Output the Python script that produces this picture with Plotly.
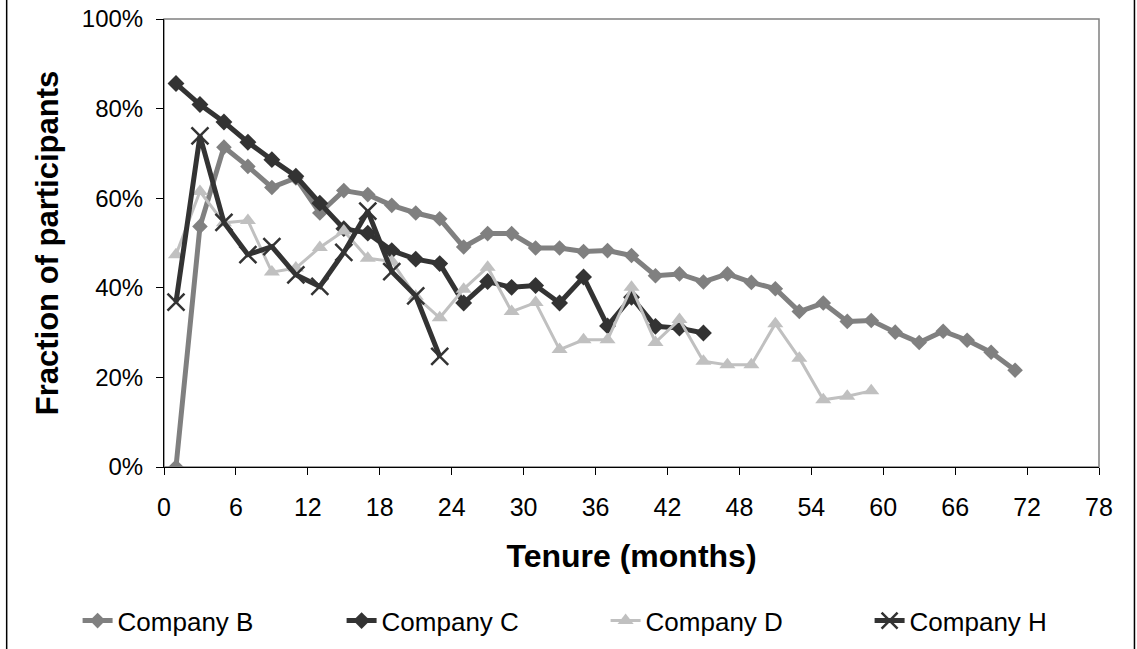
import plotly.graph_objects as go

# ---- data (fraction of participants, %) ----
months_B = list(range(1, 72, 2))
company_B = [0, 53.7, 71.4, 67.1, 62.4, 64.5, 56.7, 61.7, 60.8, 58.4, 56.7, 55.4,
             49.1, 52.1, 52.1, 48.9, 48.9, 48.1, 48.3, 47.2, 42.7, 43.1, 41.3, 43.1,
             41.2, 39.8, 34.7, 36.6, 32.5, 32.7, 30.1, 27.8, 30.3, 28.3, 25.6, 21.6]
months_C = list(range(1, 46, 2))
company_C = [85.6, 80.9, 77.0, 72.5, 68.6, 64.9, 58.9, 53.2, 52.2, 48.3, 46.4, 45.4,
             36.6, 41.4, 40.1, 40.5, 36.6, 42.4, 31.5, 37.9, 31.4, 31.0, 29.9]
months_D = list(range(1, 60, 2))
company_D = [47.4, 61.5, 54.5, 55.0, 43.5, 44.4, 49.0, 52.7, 46.6, 45.9, 38.1, 33.3,
             39.7, 44.6, 34.7, 36.7, 26.2, 28.4, 28.4, 40.1, 27.8, 32.9, 23.6, 22.8,
             22.8, 32.0, 24.3, 15.0, 15.8, 17.0]
months_H = list(range(1, 24, 2))
company_H = [36.8, 73.9, 54.6, 47.4, 49.2, 42.9, 40.3, 47.9, 57.1, 43.6, 38.2, 24.7]

x_ticks = list(range(0, 79, 6))
y_ticks = [0, 0.2, 0.4, 0.6, 0.8, 1.0]

FONT = "Liberation Sans, Arial, sans-serif"

fig = go.Figure()
fig.add_trace(go.Scatter(
    x=months_B, y=[v / 100 for v in company_B], name="Company B", mode="lines+markers",
    line=dict(color="#808080", width=5),
    marker=dict(symbol="diamond", size=12, color="#808080")))
fig.add_trace(go.Scatter(
    x=months_C, y=[v / 100 for v in company_C], name="Company C", mode="lines+markers",
    line=dict(color="#333333", width=5),
    marker=dict(symbol="diamond", size=13, color="#333333")))
fig.add_trace(go.Scatter(
    x=months_D, y=[v / 100 for v in company_D], name="Company D", mode="lines+markers",
    line=dict(color="#c0c0c0", width=3),
    marker=dict(symbol="triangle-up", size=14, color="#c0c0c0")))
fig.add_trace(go.Scatter(
    x=months_H, y=[v / 100 for v in company_H], name="Company H", mode="lines+markers",
    line=dict(color="#333333", width=5),
    marker=dict(symbol="x-thin", size=17, color="#333333",
                line=dict(color="#333333", width=2.5))))

W, H = 1137, 649
# plot area in screen pixels
L, R, T, B = 163.5, 1099.5, 19.3, 467.3
pw, ph = R - L, B - T

def px(xs):
    return (xs - L) / pw

def py(ys):
    return (B - ys) / ph

fig.update_layout(
    width=W, height=H,
    margin=dict(l=L, r=W - R, t=T, b=H - B, pad=0, autoexpand=False),
    paper_bgcolor="white", plot_bgcolor="white",
    font=dict(family=FONT, color="black", size=25),
    showlegend=True,
    legend=dict(orientation="h", x=px(77), y=py(621), xanchor="left", yanchor="middle",
                font=dict(family=FONT, size=26, color="black"),
                entrywidth=219, entrywidthmode="pixels",
                bgcolor="rgba(0,0,0,0)", traceorder="normal"),
    xaxis=dict(range=[0, 78], tickvals=x_ticks, ticktext=[str(v) for v in x_ticks],
               automargin=False, ticklabeloverflow="allow",
               showgrid=False, zeroline=False, showline=True, linecolor="black",
               linewidth=1, ticks="outside", ticklen=7, tickcolor="black",
               ticklabelstandoff=11,
               tickfont=dict(family=FONT, size=25, color="black"),
               title=dict(text="<b>Tenure (months)</b>",
                          font=dict(family=FONT, size=32, color="black"), standoff=24)),
    yaxis=dict(range=[0, 1], tickvals=y_ticks, tickformat=".0%",
               automargin=False, ticklabeloverflow="allow",
               showgrid=False, zeroline=False, showline=True, linecolor="black",
               linewidth=1, ticks="outside", ticklen=7, tickcolor="black",
               ticklabelstandoff=8,
               tickfont=dict(family=FONT, size=24, color="black"),
               title=dict(text="<b>Fraction of participants</b>",
                          font=dict(family=FONT, size=31, color="black"), standoff=13)),
    shapes=[
        dict(type="rect", xref="paper", yref="paper", x0=0, x1=1, y0=0, y1=1,
             line=dict(color="#808080", width=1.5), layer="below"),
        dict(type="rect", xref="paper", yref="paper", x0=px(6), x1=px(1135),
             y0=py(652), y1=py(-3), line=dict(color="black", width=1.5), layer="below"),
    ],
)

fig.write_html("out.html", config={"displayModeBar": False},
               post_script="document.body.style.margin='0';document.body.style.overflow='hidden';")
